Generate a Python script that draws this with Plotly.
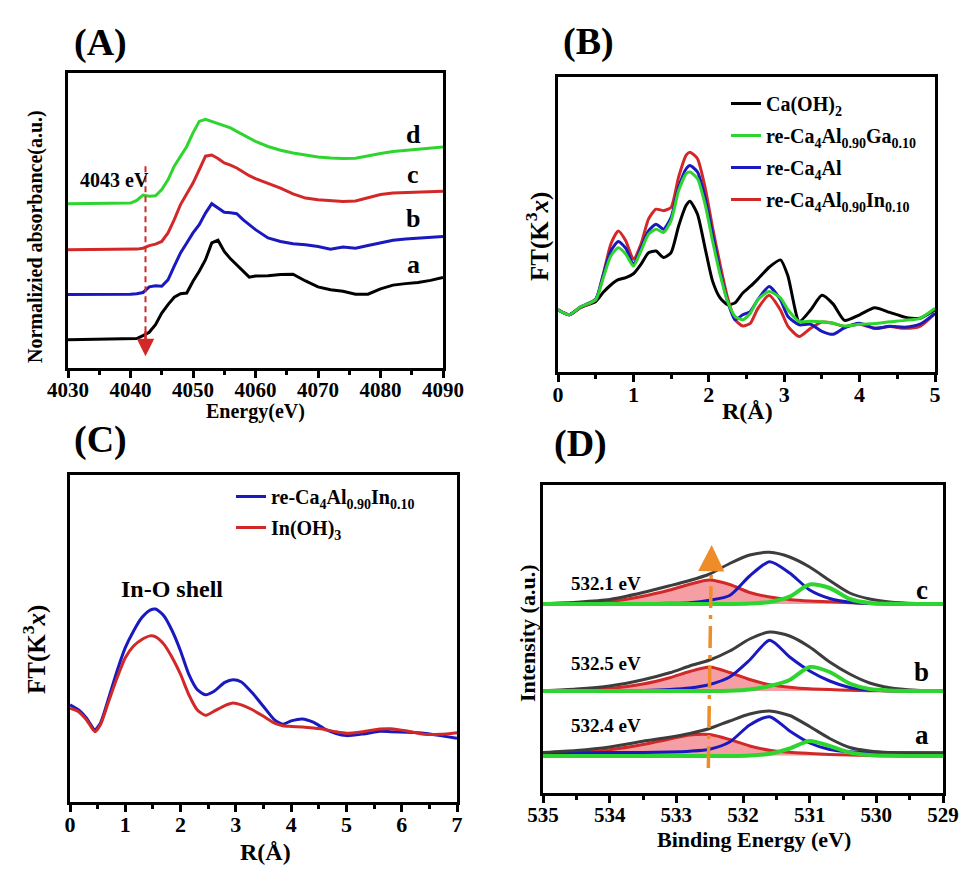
import plotly.graph_objects as go

W, H = 969, 890
PAGE = 8  # 브라우저 body 여백만큼 그림이 밀려서 보정
SERIF = "Liberation Serif, Times New Roman, serif"

# 색
BLACK, GREEN, BLUE, RED = "#000000", "#2fd52f", "#1919bf", "#d22828"
GRAY, ORANGE = "#3d3d3d", "#ef8c2a"
FILL = "rgba(236,80,90,0.55)"

# (A) Ca K-edge XANES, 세로값은 임의 단위(0-10)
A_E = [4030, 4035, 4040, 4041, 4042, 4043, 4044, 4045, 4046, 4047, 4048, 4049,
       4050, 4051, 4052, 4053, 4054, 4055, 4056, 4057, 4058, 4059, 4060, 4062,
       4064, 4066, 4068, 4070, 4072, 4074, 4076, 4078, 4080, 4082, 4084, 4086,
       4088, 4090]
A_a = [0.96, 0.97, 0.98, 1.00, 1.10, 1.21, 1.47, 1.86, 2.15, 2.40, 2.52, 2.54,
       2.94, 3.28, 3.67, 4.24, 4.33, 3.95, 3.70, 3.50, 3.28, 3.08, 3.12, 3.13,
       3.17, 3.18, 2.95, 2.75, 2.65, 2.60, 2.50, 2.50, 2.68, 2.81, 2.86, 2.90,
       2.97, 3.07]
A_b = [2.49, 2.49, 2.50, 2.52, 2.56, 2.75, 2.79, 2.77, 2.99, 3.45, 3.90, 4.24,
       4.58, 4.86, 5.25, 5.57, 5.42, 5.28, 5.26, 5.23, 5.03, 4.85, 4.69, 4.41,
       4.29, 4.21, 4.18, 4.12, 4.03, 4.10, 4.06, 4.15, 4.24, 4.33, 4.37, 4.40,
       4.44, 4.46]
A_c = [4.01, 4.01, 4.01, 4.03, 4.06, 4.15, 4.20, 4.29, 4.58, 5.03, 5.54, 5.93,
       6.27, 6.72, 7.18, 7.22, 7.10, 6.95, 6.88, 6.78, 6.65, 6.52, 6.42, 6.27,
       6.10, 5.90, 5.76, 5.70, 5.67, 5.64, 5.66, 5.76, 5.88, 5.93, 5.94, 5.95,
       5.97, 5.99]
A_d = [5.57, 5.58, 5.59, 5.68, 5.86, 5.82, 5.84, 6.05, 6.38, 6.84, 7.18, 7.51,
       7.97, 8.36, 8.43, 8.36, 8.28, 8.21, 8.14, 8.02, 7.91, 7.80, 7.68, 7.51,
       7.38, 7.29, 7.21, 7.15, 7.12, 7.10, 7.11, 7.20, 7.27, 7.34, 7.38, 7.42,
       7.45, 7.49]

# (B) Ca K-edge FT
B_R = [0, 0.15, 0.3, 0.5, 0.6, 0.7, 0.8, 0.9, 1.0, 1.1, 1.2, 1.3, 1.4, 1.5,
       1.6, 1.7, 1.75, 1.85, 1.95, 2.05, 2.15, 2.25, 2.35, 2.45, 2.55, 2.65,
       2.8, 2.95, 3.05, 3.2, 3.35, 3.5, 3.65, 3.8, 4.0, 4.2, 4.4, 4.6, 4.8, 5.0]
B_caoh = [2.11, 1.94, 2.19, 2.39, 2.70, 2.95, 3.13, 3.20, 3.33, 3.65, 4.04, 4.10,
          3.88, 4.05, 4.95, 5.65, 5.79, 5.35, 4.21, 3.08, 2.51, 2.28, 2.35, 2.68,
          2.90, 3.15, 3.55, 3.80, 3.25, 1.71, 2.10, 2.60, 2.30, 1.75, 1.94, 2.18,
          2.02, 1.86, 1.82, 2.11]
B_ga = [2.11, 1.94, 2.21, 2.45, 3.19, 3.93, 4.21, 3.99, 3.59, 4.10, 4.67, 4.84,
        4.73, 5.13, 6.15, 6.72, 6.78, 6.55, 5.69, 4.44, 3.30, 2.39, 1.88, 1.77,
        1.99, 2.45, 2.73, 2.51, 2.11, 1.71, 1.72, 1.70, 1.65, 1.56, 1.62, 1.64,
        1.70, 1.75, 1.82, 2.16]
B_al = [2.11, 1.94, 2.21, 2.47, 3.30, 4.10, 4.42, 4.19, 3.64, 4.21, 4.78, 5.01,
        4.84, 5.24, 6.26, 6.89, 7.00, 6.78, 5.92, 4.67, 3.42, 2.39, 1.77, 1.94,
        2.05, 2.45, 2.90, 2.45, 1.88, 1.60, 1.62, 1.38, 1.28, 1.50, 1.65, 1.48,
        1.55, 1.52, 1.62, 1.99]
B_in = [2.11, 1.94, 2.19, 2.45, 3.30, 4.33, 4.78, 4.44, 3.82, 4.33, 5.18, 5.52,
        5.47, 5.58, 6.61, 7.35, 7.45, 7.23, 6.26, 4.90, 3.64, 2.51, 1.77, 1.56,
        1.65, 2.15, 2.60, 2.10, 1.55, 1.20, 1.48, 1.69, 1.65, 1.54, 1.62, 1.48,
        1.54, 1.48, 1.55, 1.99]
B_NAMES = ["Ca(OH)<sub>2</sub>",
           "re-Ca<sub>4</sub>Al<sub>0.90</sub>Ga<sub>0.10</sub>",
           "re-Ca<sub>4</sub>Al",
           "re-Ca<sub>4</sub>Al<sub>0.90</sub>In<sub>0.10</sub>"]

# (C) In K-edge FT
C_R = [0, 0.15, 0.3, 0.45, 0.55, 0.7, 0.85, 1.0, 1.15, 1.3, 1.45, 1.55, 1.7,
       1.85, 2.0, 2.15, 2.3, 2.45, 2.6, 2.8, 2.95, 3.1, 3.3, 3.5, 3.7, 3.85,
       4.0, 4.2, 4.4, 4.6, 4.8, 5.0, 5.3, 5.6, 5.8, 6.1, 6.4, 6.7, 7.0]
C_sample = [2.97, 2.82, 2.56, 2.21, 2.41, 3.18, 4.00, 4.72, 5.23, 5.64, 5.87,
            5.90, 5.69, 5.23, 4.62, 3.90, 3.44, 3.28, 3.38, 3.66, 3.74, 3.67,
            3.33, 2.92, 2.51, 2.38, 2.48, 2.54, 2.44, 2.24, 2.10, 2.03, 2.08,
            2.16, 2.15, 2.13, 2.10, 2.03, 1.95]
C_inoh = [2.87, 2.77, 2.51, 2.15, 2.36, 3.08, 3.79, 4.41, 4.77, 4.97, 5.08,
          5.05, 4.82, 4.41, 3.90, 3.28, 2.82, 2.65, 2.77, 2.95, 3.03, 2.97,
          2.82, 2.62, 2.41, 2.33, 2.31, 2.29, 2.26, 2.22, 2.15, 2.10, 2.15,
          2.23, 2.24, 2.17, 2.07, 2.07, 2.12]
C_NAMES = ["re-Ca<sub>4</sub>Al<sub>0.90</sub>In<sub>0.10</sub>",
           "In(OH)<sub>3</sub>"]

# (D) O 1s XPS 피팅: 각 스펙트럼의 피크 높이(기준선 위) + 세로 오프셋
D_BE = [535.0, 534.5, 534.0, 533.5, 533.1, 532.8, 532.5, 532.2, 531.9, 531.6,
        531.3, 531.0, 530.7, 530.4, 530.1, 529.8, 529.4, 529.0]
D_LABELS = ["a", "b", "c"]
D_OFFSET = [37, 102, 189]
D_PEAK = ["532.4 eV", "532.5 eV", "532.1 eV"]
D_ENV = [
    [3.5, 5.5, 9, 14.8, 18.8, 22.5, 27.5, 35, 42, 45, 40.5, 29.5, 17.5, 8.5, 5, 3.5, 3, 2.8],
    [0.3, 2, 5, 11.2, 18.2, 25, 31, 40, 52, 59, 55, 44, 29, 17, 8, 3.3, 0.8, 0],
    [0.3, 1.8, 4.5, 11.5, 18.2, 23.5, 30, 40.5, 49, 51.7, 47, 37, 23.5, 11, 5, 2, 0.4, 0],
]
D_OH = [  # ~532.5 eV, 채움
    [1, 3.2, 6.2, 11.5, 17, 21, 21.5, 16.5, 10, 5.8, 3.8, 2.6, 1.6, 0.9, 0.4, 0.2, 0, 0],
    [0, 0.7, 2.5, 7, 13.3, 19.5, 24, 18.5, 11.5, 6.3, 3.8, 2.2, 1.4, 0.8, 0.3, 0, 0, 0],
    [0, 0.8, 2.6, 7.8, 14, 19.8, 24, 19.5, 11.5, 7, 4.5, 3, 2.2, 1.3, 0.5, 0.2, 0, 0],
]
D_MID = [  # ~531.6 eV
    [3.3, 3.3, 3.4, 3.6, 4, 4.8, 6.8, 14, 31, 39.3, 25, 13, 6.5, 4.2, 3.5, 3.3, 3.3, 3.3],
    [0, 0, 0.2, 0.6, 1.5, 3, 6.5, 14, 31, 50.7, 34, 20, 10, 3.5, 1, 0.3, 0, 0],
    [0, 0, 0.1, 0.3, 0.7, 1.3, 3.8, 8.5, 28, 42.3, 31, 14, 5.5, 1.8, 0.5, 0.1, 0, 0],
]
D_LAT = [  # ~531.0 eV
    [0, 0, 0, 0, 0, 0, 0, 0, 0.5, 2.3, 7.5, 15, 10, 3.5, 1, 0.2, 0, 0],
    [0, 0, 0, 0, 0, 0, 0, 0.3, 1.5, 5, 11, 24, 19, 7.5, 2, 0.5, 0, 0],
    [0, 0, 0, 0, 0, 0, 0, 0, 0.5, 2, 7.3, 19.5, 16, 5, 1, 0.2, 0, 0],
]


def px(x):
    return (x - PAGE) / W


def py(y):
    return 1 - (y - PAGE) / H


def font(size, color=BLACK):
    return dict(family=SERIF, size=size, color=color, weight="bold")


def text(x, y, s, size, ref="paper", angle=0):
    xr, yr = ("paper", "paper") if ref == "paper" else ref
    return dict(x=x, y=y, xref=xr, yref=yr, text=s, showarrow=False,
                xanchor="center", yanchor="middle", font=font(size), textangle=angle)


fig = go.Figure()

# (A)
for ys, c in zip([A_a, A_b, A_c, A_d], [BLACK, BLUE, RED, GREEN]):
    fig.add_trace(go.Scatter(x=A_E, y=ys, mode="lines", line=dict(color=c, width=3),
                             xaxis="x", yaxis="y", showlegend=False))

# (B)
for ys, c, name, rank in zip([B_caoh, B_in, B_al, B_ga], [BLACK, RED, BLUE, GREEN],
                             [B_NAMES[0], B_NAMES[3], B_NAMES[2], B_NAMES[1]],
                             [1, 4, 3, 2]):
    fig.add_trace(go.Scatter(x=B_R, y=ys, mode="lines", name=name, legendrank=rank,
                             legendgroup=name, line=dict(color=c, width=3, shape="spline",
                                                         smoothing=0.6),
                             xaxis="x2", yaxis="y2", legend="legend"))

# (C)
for ys, c, name in zip([C_sample, C_inoh], [BLUE, RED], C_NAMES):
    fig.add_trace(go.Scatter(x=C_R, y=ys, mode="lines", name=name, legendgroup=name,
                             line=dict(color=c, width=3, shape="spline", smoothing=0.6),
                             xaxis="x3", yaxis="y3", legend="legend2"))

# (D)
for k in range(3):
    off = D_OFFSET[k]
    sp = dict(shape="spline", smoothing=0.7)
    fig.add_trace(go.Scatter(x=D_BE, y=[off + v for v in D_OH[k]], mode="lines",
                             fill="toself", fillcolor=FILL,
                             line=dict(color=RED, width=3, **sp),
                             xaxis="x4", yaxis="y4", showlegend=False))
    fig.add_trace(go.Scatter(x=D_BE, y=[off + v for v in D_MID[k]], mode="lines",
                             line=dict(color=BLUE, width=3, **sp),
                             xaxis="x4", yaxis="y4", showlegend=False))
    fig.add_trace(go.Scatter(x=D_BE, y=[off + v for v in D_ENV[k]], mode="lines",
                             line=dict(color=GRAY, width=3, **sp),
                             xaxis="x4", yaxis="y4", showlegend=False))
    fig.add_trace(go.Scatter(x=D_BE, y=[off + v for v in D_LAT[k]], mode="lines",
                             line=dict(color=GREEN, width=4, **sp),
                             xaxis="x4", yaxis="y4", showlegend=False))

annotations = [
    text(px(100), py(42), "(A)", 38),
    text(px(588), py(41), "(B)", 38),
    text(px(100), py(440), "(C)", 38),
    text(px(580), py(443), "(D)", 38),
    # 축 제목
    text(px(256), py(411), "Energy(eV)", 20),
    text(px(35), py(237), "Normalizied absorbance(a.u.)", 20, angle=-90),
    text(px(747), py(411), "R(Å)", 24),
    text(px(537), py(237), "FT(K<sup>3</sup><i>x</i>)", 25, angle=-90),
    text(px(265), py(852), "R(Å)", 24),
    text(px(34), py(650), "FT(K<sup>3</sup><i>x</i>)", 25, angle=-90),
    text(px(754), py(839), "Binding Energy (eV)", 22),
    text(px(527), py(633), "Intensity (a.u.)", 22, angle=-90),
    # (A) 표시
    text(4037.5, 6.38, "4043 eV", 20, ref=("x", "y")),
    # 빨간 화살표 머리
    dict(x=4042.4, y=0.40, ax=4042.4, ay=1.3, xref="x", yref="y", axref="x", ayref="y",
         showarrow=True, arrowhead=2, arrowsize=1.4, arrowwidth=2.5, arrowcolor=RED,
         text=""),
    # (C)
    text(1.85, 6.51, "In-O shell", 24, ref=("x3", "y3")),
    # (D) 주황 화살표 머리
    dict(x=532.47, y=248, ax=532.475, ay=228, xref="x4", yref="y4", axref="x4",
         ayref="y4", showarrow=True, arrowhead=2, arrowsize=1.5, arrowwidth=3.5,
         arrowcolor=ORANGE, text=""),
]
for lab, yv in zip(["d", "c", "b", "a"], [7.91, 6.55, 5.08, 3.50]):
    annotations.append(text(4085.2, yv, lab, 26, ref=("x", "y")))
for k, yv in enumerate([68, 130, 210]):
    annotations.append(text(534.06, yv, D_PEAK[k], 19, ref=("x4", "y4")))
for k, yv in enumerate([58, 121, 203]):
    annotations.append(text(529.32, yv, D_LABELS[k], 27, ref=("x4", "y4")))

shapes = [
    dict(type="line", xref="x", yref="y", x0=4042.4, x1=4042.4, y0=6.84, y1=1.0,
         line=dict(color=RED, width=2, dash="6px,4px")),
    dict(type="line", xref="x4", yref="y4", x0=532.52, x1=532.475, y0=25, y1=232,
         line=dict(color=ORANGE, width=3.5, dash="22px,7px,4px,7px")),
]


def xax(domain, rng, dtick, minor, anchor, size):
    return dict(domain=domain, range=rng, anchor=anchor, automargin=False,
                showline=True, mirror=True, linewidth=3, linecolor=BLACK,
                showgrid=False, zeroline=False, ticks="outside", ticklen=7,
                tickwidth=3, tickcolor=BLACK, dtick=dtick,
                tickfont=dict(family=SERIF, size=size, color=BLACK),
                tickprefix="<b>", ticksuffix="</b>",
                ticklabelstandoff=-6,
                minor=dict(ticks="outside", ticklen=4, tickwidth=3, tickcolor=BLACK,
                           dtick=minor, showgrid=False))


def yax(domain, rng, anchor):
    return dict(domain=domain, range=rng, anchor=anchor, automargin=False,
                showline=True, mirror=True, linewidth=3, linecolor=BLACK,
                showgrid=False, zeroline=False, ticks="", showticklabels=False)


fig.update_layout(
    width=W, height=H, margin=dict(l=0, r=0, t=0, b=0),
    paper_bgcolor="white", plot_bgcolor="white",
    font=font(18),
    xaxis=xax([px(68), px(443)], [4030, 4090], 10, 5, "y", 21),
    yaxis=yax([py(368), py(73)], [0, 10], "x"),
    xaxis2=xax([px(558), px(935)], [0, 5], 1, 0.5, "y2", 22),
    yaxis2=yax([py(372), py(77)], [0, 10], "x2"),
    xaxis3=xax([px(70), px(457)], [0, 7], 1, 0.5, "y3", 22),
    yaxis3=yax([py(802), py(475)], [0, 10], "x3"),
    xaxis4=xax([px(543), px(943)], [535, 529], 1, 0.5, "y4", 21),
    yaxis4=yax([py(793), py(485)], [0, 308], "x4"),
    legend=dict(x=px(726), y=py(84), xanchor="left", yanchor="top",
                bgcolor="rgba(0,0,0,0)", font=font(20), tracegroupgap=3,
                traceorder="grouped"),
    legend2=dict(x=px(231), y=py(477), xanchor="left", yanchor="top",
                 bgcolor="rgba(0,0,0,0)", font=font(20), tracegroupgap=2,
                 traceorder="grouped"),
    annotations=annotations,
    shapes=shapes,
)

fig.write_html("out.html")
